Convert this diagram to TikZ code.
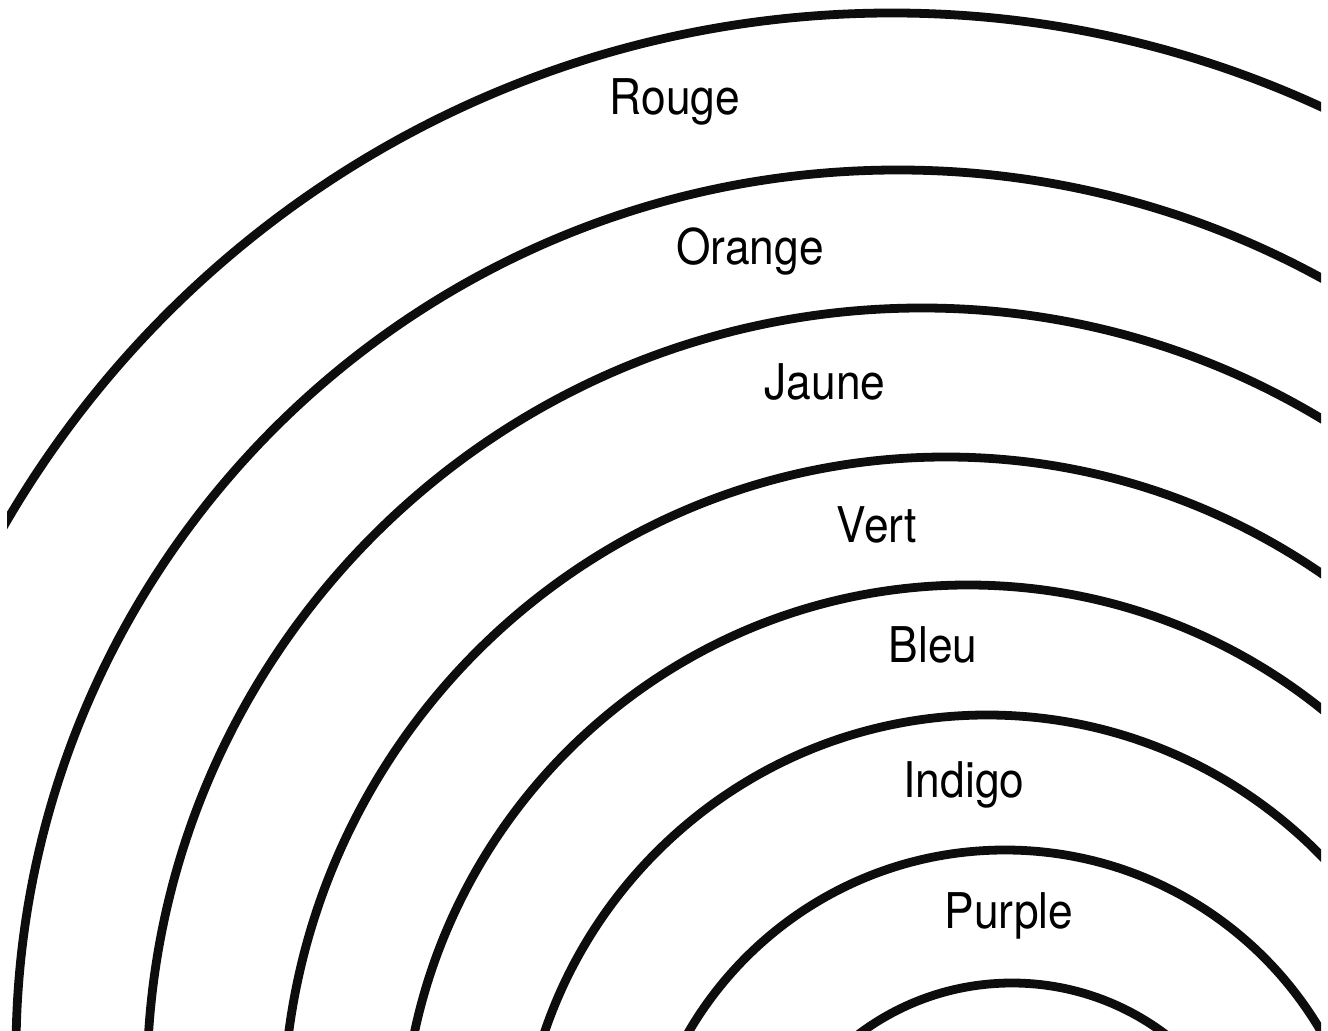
\documentclass[tikz,border=0pt]{standalone}
\usepackage{fontspec}
\setmainfont{TeX Gyre Heros}[FakeStretch=0.9]
\usepackage{tikz}

\begin{document}
\begin{tikzpicture}[
  x=0.01cm,y=-0.01cm,
  band/.style={draw=black!95,line width=2.5pt},
  colourname/.style={anchor=base,inner sep=0pt,font=\fontsize{14}{16}\selectfont}]
\fill[white] (0,0) rectangle (1328,1031);
\useasboundingbox (0,0) rectangle (1328,1031);
%--- Arcs ---
\begin{scope}
\clip (7,-20) rectangle (1321,1031);
\foreach \cx/\cy/\r in {892/1038/1025,898/1052/882,922/1083/775,946/1120/663,
                        968/1151/566,987/1182/467,1005/1216/366,1012/1238/255}
  \draw[band] (\cx,\cy) circle[radius=\r];
\end{scope}
%--- Labels ---
\node[colourname] (rouge)  at (675,115) {Rouge};
\node[colourname] (orange) at (750,265) {Orange};
\node[colourname] (jaune)  at (825,400) {Jaune};
\node[colourname] (vert)   at (877,542) {Vert};
\node[colourname] (bleu)   at (933,662) {Bleu};
\node[colourname] (indigo) at (964,797) {Indigo};
\node[colourname] (purple) at (1009,928) {Purple};
\end{tikzpicture}
\end{document}
